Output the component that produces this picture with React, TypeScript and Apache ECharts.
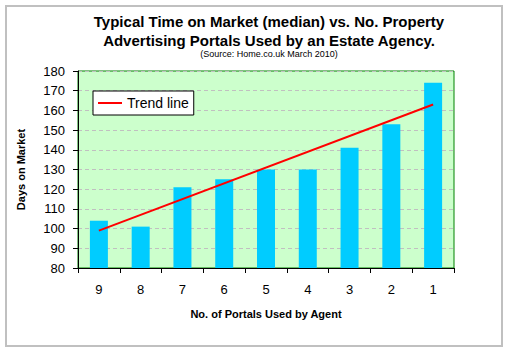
import React, { useEffect, useRef } from "react";
import * as echarts from "echarts";

const titleLines = [
  "Typical Time on Market (median) vs. No. Property",
  "Advertising Portals Used by an Estate Agency.",
];
const subtitle = "(Source: Home.co.uk March 2010)";
const categories = ["9", "8", "7", "6", "5", "4", "3", "2", "1"];
const daysOnMarket = [104, 101, 121, 125, 130, 130, 141, 153, 174];
// Trend line end points: [category index, value]
const trendStart = [0, 99];
const trendEnd = [8, 163];
const yMin = 80;
const yMax = 180;
const yStep = 10;

const FONT = "'Liberation Sans', Arial, sans-serif";

export default function App() {
  const ref = useRef<HTMLDivElement>(null);
  useEffect(() => {
    if (!ref.current) return;
    const chart = echarts.init(ref.current, null, { renderer: "svg" });
    chart.setOption({
      animation: false,
      backgroundColor: "#ffffff",
      textStyle: { fontFamily: FONT },
      title: [
        {
          text: titleLines.join("\n"),
          left: 264,
          top: 7,
          textAlign: "center",
          textStyle: {
            fontFamily: FONT,
            fontSize: 15,
            fontWeight: "bold",
            color: "#000",
            lineHeight: 19,
          },
        },
        {
          text: subtitle,
          left: 264,
          top: 44,
          textAlign: "center",
          textStyle: {
            fontFamily: FONT,
            fontSize: 9,
            fontWeight: "normal",
            color: "#000",
          },
        },
      ],
      graphic: [
        {
          type: "rect",
          shape: { x: 6, y: 6, width: 496, height: 340 },
          style: { fill: "none", stroke: "#c0c0c0", lineWidth: 2 },
          z: 0,
        },
      ],
      legend: {
        left: 93,
        top: 91,
        padding: [5, 5, 5, 5],
        borderColor: "#000",
        borderWidth: 1,
        backgroundColor: "#fff",
        icon: "rect",
        itemWidth: 24,
        itemHeight: 2,
        textStyle: { fontFamily: FONT, fontSize: 14, color: "#000" },
        data: ["Trend line"],
        z: 10,
      },
      grid: {
        left: 78,
        right: 55,
        top: 71,
        bottom: 84,
        show: true,
        backgroundColor: "#ccffcc",
        borderColor: "#008000",
        borderWidth: 1,
      },
      xAxis: {
        type: "category",
        data: categories,
        name: "No. of Portals Used by Agent",
        nameLocation: "middle",
        nameGap: 40,
        nameTextStyle: { fontFamily: FONT, fontSize: 11, fontWeight: "bold", color: "#000" },
        axisLine: { lineStyle: { color: "#000", width: 1 } },
        axisTick: { show: true, length: 5, alignWithLabel: false, lineStyle: { color: "#000" } },
        axisLabel: { fontFamily: FONT, fontSize: 13, color: "#000", margin: 15 },
        splitLine: { show: false },
      },
      yAxis: {
        type: "value",
        min: yMin,
        max: yMax,
        interval: yStep,
        name: "Days on Market",
        nameLocation: "middle",
        nameGap: 52,
        nameTextStyle: { fontFamily: FONT, fontSize: 11, fontWeight: "bold", color: "#000" },
        axisLine: { show: true, lineStyle: { color: "#000", width: 1 } },
        axisTick: { show: true, length: 5, lineStyle: { color: "#000" } },
        axisLabel: { fontFamily: FONT, fontSize: 13, color: "#000", margin: 13 },
        splitLine: { show: true, lineStyle: { color: "#c0c0c0", type: [4, 3], width: 1 } },
      },
      series: [
        {
          type: "bar",
          name: "Days",
          data: daysOnMarket,
          barWidth: 18,
          itemStyle: { color: "#00ccff" },
          z: 2,
        },
        {
          type: "line",
          name: "Trend line",
          data: [trendStart, trendEnd],
          symbol: "none",
          lineStyle: { color: "#ff0000", width: 2 },
          itemStyle: { color: "#ff0000" },
          z: 3,
        },
      ],
    });
    return () => chart.dispose();
  }, []);
  return (
    <div
      ref={ref}
      style={{ position: "absolute", left: 0, top: 0, width: 509, height: 352 }}
    />
  );
}
